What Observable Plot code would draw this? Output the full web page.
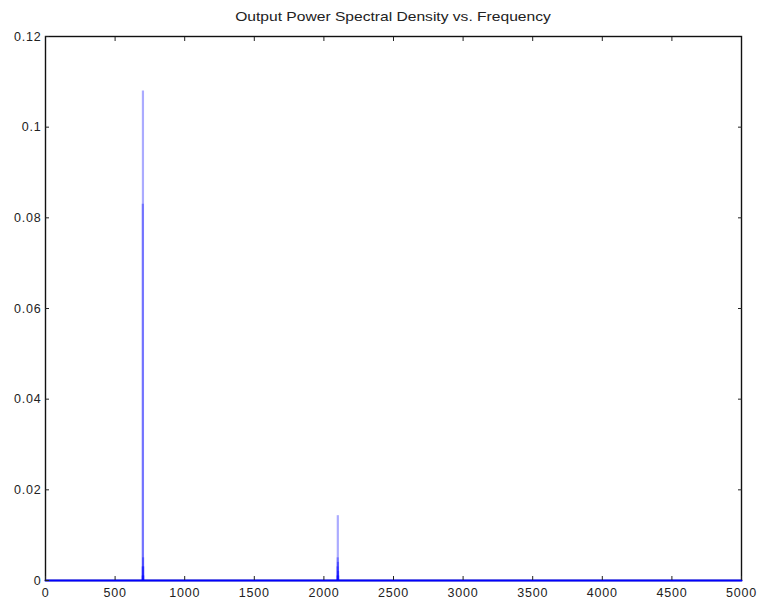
<!DOCTYPE html>
<html>
<head>
<meta charset="utf-8">
<script src="https://cdn.jsdelivr.net/npm/d3@7"></script>
<script src="https://cdn.jsdelivr.net/npm/@observablehq/plot@0.6"></script>
<style>
  html, body { margin: 0; padding: 0; background: #fff; }
  #title { width: 761px; height: 24px; position: relative; font-family: "Liberation Sans", Arial, sans-serif; font-size: 13px; color: #222; }
  #title span { position: absolute; left: 393px; top: 9px; transform: translateX(-50%) scaleX(1.2); white-space: nowrap; }
  svg { display: block; }
  svg text { letter-spacing: 0.8px; }
</style>
</head>
<body>
<div id="title"><span>Output Power Spectral Density vs. Frequency</span></div>
<div id="chart"></div>
<script>
// Spectrum bins (Hz) and power spectral density values
const freq = [0, 694, 697, 698, 699, 700, 701, 702, 703, 706, 2094, 2097, 2098, 2099, 2100, 2101, 2102, 2103, 2106, 5000];
const psd  = [0, 0, 0.001, 0.003, 0.083, 0.108, 0.005, 0.003, 0.001, 0, 0, 0.001, 0.003, 0.005, 0.0143, 0.004, 0.002, 0.001, 0, 0];
const xTicks = [0, 500, 1000, 1500, 2000, 2500, 3000, 3500, 4000, 4500, 5000];
const yTicks = [0, 0.02, 0.04, 0.06, 0.08, 0.1, 0.12];

const data = freq.map((f, i) => ({f, p: psd[i]}));
const peaks = data.filter(d => d.p > 0);
const fmt = d => String(Math.round(d * 100) / 100);

const chart = Plot.plot({
  width: 761,
  height: 583,
  marginLeft: 45,
  marginRight: 20,
  marginTop: 12,
  marginBottom: 27,
  style: {fontFamily: "'Liberation Sans', Arial, sans-serif", fontSize: "12.5px", color: "#222", background: "#fff"},
  x: {domain: [0, 5000]},
  y: {domain: [0, 0.12]},
  marks: [
    Plot.frame({stroke: "#111", strokeWidth: 1.4}),
    Plot.ruleX(peaks, {x: "f", y1: 0, y2: "p", stroke: "#0000ff", strokeOpacity: 0.33, strokeWidth: 2.2}),
    Plot.lineY(data, {x: "f", y: () => 0, stroke: "#0000ff", strokeWidth: 2}),
    Plot.axisX({anchor: "bottom", ticks: xTicks, tickSize: -4, tickPadding: 12, tickFormat: d => String(d), label: null, fontSize: 12.5}),
    Plot.axisX({anchor: "top", ticks: xTicks.slice(1, -1), tickSize: -4, tickFormat: () => "", label: null}),
    Plot.axisY({anchor: "left", ticks: yTicks, tickSize: -4, tickPadding: 8, tickFormat: fmt, label: null, fontSize: 12.5}),
    Plot.axisY({anchor: "right", ticks: yTicks.slice(1, -1), tickSize: -4, tickFormat: () => "", label: null})
  ]
});
document.getElementById("chart").appendChild(chart);
</script>
</body>
</html>
